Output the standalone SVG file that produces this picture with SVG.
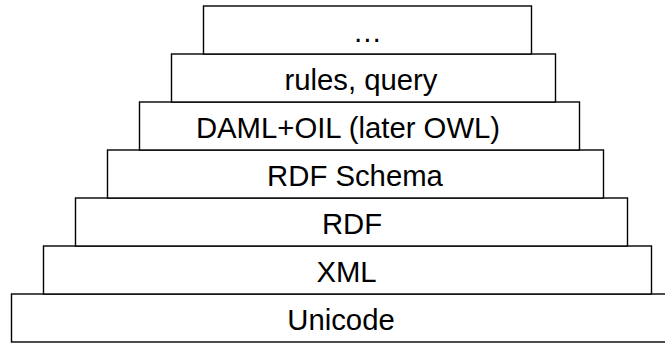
<svg xmlns="http://www.w3.org/2000/svg" width="665" height="343" viewBox="0 0 665 343">
<style>
.box{fill:#fff;stroke:#000;stroke-width:1.4}
.lbl{font-family:"Liberation Sans",Arial,sans-serif;font-size:29.3px;fill:#000;text-anchor:middle}
</style>
<rect x="0" y="0" width="665" height="343" fill="#fff"/>
<g id="unicode"><rect class="box" x="11.5" y="294" width="662" height="48"/><text class="lbl" x="341" y="330">Unicode</text></g>
<g id="xml"><rect class="box" x="43.5" y="246" width="608" height="48"/><text class="lbl" x="346.5" y="282">XML</text></g>
<g id="rdf"><rect class="box" x="75.5" y="198" width="552" height="48"/><text class="lbl" x="352" y="234">RDF</text></g>
<g id="rdfschema"><rect class="box" x="107.5" y="150" width="496" height="48"/><text class="lbl" x="355" y="186">RDF Schema</text></g>
<g id="daml"><rect class="box" x="139.5" y="102" width="440" height="48"/><text class="lbl" x="348" y="138">DAML+OIL (later OWL)</text></g>
<g id="rules"><rect class="box" x="171.5" y="54" width="384" height="48"/><text class="lbl" x="361" y="90">rules, query</text></g>
<g id="more"><rect class="box" x="203.5" y="6" width="328" height="48"/><text class="lbl" x="367.5" y="42">…</text></g>
<g id="connectors"></g>
</svg>
